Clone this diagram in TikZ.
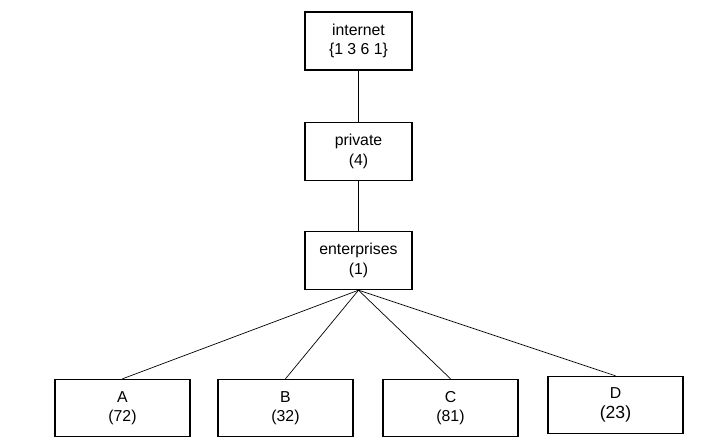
\documentclass[tikz,border=0pt]{standalone}
\usepackage{fontspec}
\setmainfont{Liberation Sans}
\begin{document}
\begin{tikzpicture}[
    oidbox/.style={draw, thick, minimum width=2.14cm, minimum height=1.16cm, align=center, font=\small, inner sep=1pt},
    leafbox/.style={draw, thick, minimum width=2.7cm, minimum height=1.14cm, align=center, font=\small, inner sep=1pt}]
                \useasboundingbox (0,0) rectangle (14.22,-8.9);

                \node[oidbox] (internet) at (7.17,-0.82) {internet\\\{1 3 6 1\}};
                \node[oidbox] (private) at (7.17,-3.03) {private\\(4)};
                \node[oidbox] (enterprises) at (7.17,-5.21) {enterprises\\(1)};

                \node[leafbox] (a) at (2.45,-8.16) {A\\(72)};
                \node[leafbox] (b) at (5.71,-8.16) {B\\(32)};
                \node[leafbox] (c) at (9.01,-8.16) {C\\(81)};
                \node[leafbox] (d) at (12.31,-8.10) {D\\{\normalsize(23)}};

                \draw (internet) -- (private);
                \draw (private) -- (enterprises);

                \draw (enterprises.south) -- (a.north);
                \draw (enterprises.south) -- (b.north);
                \draw (enterprises.south) -- (c.north);
                \draw (enterprises.south) -- (d.north);
\end{tikzpicture}
\end{document}
